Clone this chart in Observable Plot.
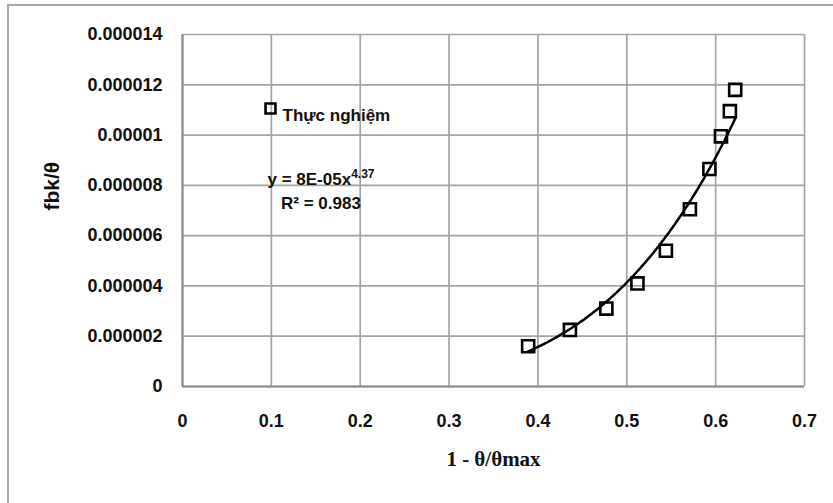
<!DOCTYPE html>
<html><head><meta charset="utf-8">
<script src="https://cdn.jsdelivr.net/npm/d3@7"></script>
<script src="https://cdn.jsdelivr.net/npm/@observablehq/plot@0.6"></script>
<style>
html,body{margin:0;padding:0;background:#fff;overflow:hidden;width:833px;height:503px;}
#wrap{position:relative;width:833px;height:503px;overflow:hidden;}
#chart{position:absolute;left:0;top:0;}
#border{position:absolute;left:7px;top:4px;width:860px;height:530px;border:2px solid #a8a8a8;box-sizing:border-box;pointer-events:none;}
#eq{position:absolute;left:231px;top:168px;width:180px;text-align:center;font-family:"Liberation Sans",Arial,sans-serif;font-weight:bold;font-size:17px;line-height:24px;color:#111;}
#eq sup{font-size:12px;line-height:0;vertical-align:7px;}
</style></head>
<body><div id="wrap"><div id="chart"></div><div id="eq"></div><div id="border"></div></div>
<script>
// Data
const xValues = [0.389, 0.436, 0.477, 0.512, 0.544, 0.571, 0.593, 0.606, 0.616, 0.622];
const yValues = [0.0000016, 0.00000225, 0.0000031, 0.0000041, 0.0000054, 0.00000705, 0.00000865, 0.00000995, 0.00001095, 0.0000118];
const xTicks = [0, 0.1, 0.2, 0.3, 0.4, 0.5, 0.6, 0.7];
const xTickLabels = ["0", "0.1", "0.2", "0.3", "0.4", "0.5", "0.6", "0.7"];
const yTicks = [0, 0.000002, 0.000004, 0.000006, 0.000008, 0.00001, 0.000012, 0.000014];
const yTickLabels = ["0", "0.000002", "0.000004", "0.000006", "0.000008", "0.00001", "0.000012", "0.000014"];
const seriesName = "Thực nghiệm";
const xTitle = "1 - θ/θmax";
const yTitle = "fbk/θ";
const equationMain = "y = 8E-05x";
const equationExp = "4.37";
const r2Text = "R² = 0.983";

const data = xValues.map((x, i) => ({x, y: yValues[i]}));

// Power trendline fitted (least squares in log space) from the data
const lx = xValues.map(Math.log), ly = yValues.map(Math.log);
const mx = d3.mean(lx), my = d3.mean(ly);
const b = d3.sum(lx.map((v, i) => (v - mx) * (ly[i] - my))) / d3.sum(lx.map(v => (v - mx) ** 2));
const a = Math.exp(my - b * mx);
const [x0, x1] = d3.extent(xValues);
const fit = d3.range(0, 101).map(i => { const x = x0 + (x1 - x0) * i / 100; return {x, y: a * Math.pow(x, b)}; });

const font = "'Liberation Sans', Arial, sans-serif";
const plot = Plot.plot({
  width: 833, height: 503,
  marginLeft: 182, marginRight: 29, marginTop: 34, marginBottom: 117,
  style: {fontFamily: font, fontSize: "18px", fontWeight: "bold", color: "#111", background: "transparent"},
  x: {domain: [0, 0.7]},
  y: {domain: [0, 0.000014]},
  marks: [
    Plot.gridX(xTicks, {stroke: "#a4a4a4", strokeOpacity: 1, strokeWidth: 1.7}),
    Plot.gridY(yTicks, {stroke: "#a4a4a4", strokeOpacity: 1, strokeWidth: 1.7}),
    Plot.ruleX([0], {stroke: "#888", strokeWidth: 2}),
    Plot.ruleY([0], {stroke: "#888", strokeWidth: 2}),
    Plot.axisX({ticks: xTicks, tickSize: 0, tickPadding: 28, label: null,
      tickFormat: d => xTickLabels[xTicks.indexOf(d)]}),
    Plot.axisY({ticks: yTicks, tickSize: 0, tickPadding: 20, label: null,
      tickFormat: d => yTickLabels[yTicks.indexOf(d)]}),
    Plot.dot(data, {x: "x", y: "y", symbol: "square", r: 6.8, stroke: "black", strokeWidth: 2.6, fill: "none"}),
    Plot.line(fit, {x: "x", y: "y", stroke: "black", strokeWidth: 2.5}),
    Plot.text([xTitle], {text: d => d, frameAnchor: "bottom", dy: 79, fontFamily: "'Liberation Serif', 'Times New Roman', serif", fontSize: 21, fontWeight: "bold", fill: "#111"}),
    Plot.text([yTitle], {text: d => d, frameAnchor: "left", dx: -130, rotate: -90, fontSize: 21, fontWeight: "bold", fill: "#111"}),
    Plot.dot([seriesName], {frameAnchor: "top-left", dx: 88, dy: 74, symbol: "square", r: 5.6, stroke: "black", strokeWidth: 2.6, fill: "none"}),
    Plot.text([seriesName], {text: d => d, frameAnchor: "top-left", dx: 100, dy: 74, textAnchor: "start", fontSize: 17, fontWeight: "bold", fill: "#111"})
  ]
});
document.getElementById("chart").appendChild(plot);
const eq = document.getElementById("eq");
eq.innerHTML = "";
const l1 = document.createElement("div");
l1.textContent = equationMain;
const sup = document.createElement("sup");
sup.textContent = equationExp;
l1.appendChild(sup);
const l2 = document.createElement("div");
l2.textContent = r2Text;
eq.appendChild(l1); eq.appendChild(l2);
</script>
</body></html>
